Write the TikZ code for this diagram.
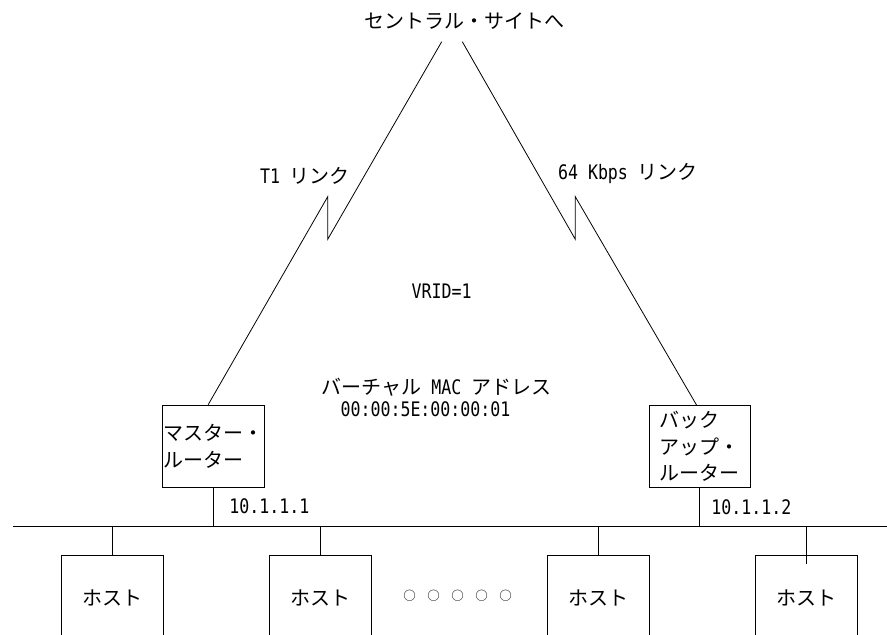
\documentclass[tikz,border=0pt]{standalone}
\usepackage{fontspec}
\setmainfont{Noto Sans CJK JP}
\newfontfamily\lat[FakeStretch=0.83]{DejaVu Sans Mono}
\usetikzlibrary{calc}
\begin{document}
\begin{tikzpicture}[x=1pt,y=-1pt,line width=0.8pt,
  every node/.style={font=\fontsize{20}{26.6}\selectfont, inner sep=0pt},
  router/.style={draw, align=left},
  hostbox/.style={draw, minimum width=102pt, minimum height=85pt, anchor=north}]
\useasboundingbox (0,0) rectangle (887,635);
\clip (0,0) rectangle (887,635);

% labels
\node (title) at (464,21) {セントラル・サイトへ};
\node (t1) at (305,176) {{\lat T1 }リンク};
\node (k64) at (628,174) {{\lat 64 Kbps }リンク};
\node (vrid) at (441.7,291.7) {\lat VRID=1};
\node (vmac) at (436.5,387) {バーチャル{\lat\ MAC\ }アドレス};
\node (mac) at (425.5,409) {\lat 00:00:5E:00:00:01};

% routers
\node[router, minimum width=101.6pt, minimum height=82.3pt] (master) at (213.5,446.2) {マスター・\\ルーター};
\node[router, minimum width=101pt, minimum height=81.6pt] (backup) at (699.5,446.5) {バック\\アップ・\\ルーター};
\node[anchor=west] (ip1) at (229,506) {\lat 10.1.1.1};
\node[anchor=west] (ip2) at (711,507) {\lat 10.1.1.2};

% hosts
\node[hostbox] (h1) at (112.85,555) {ホスト};
\node[hostbox] (h2) at (320,555) {ホスト};
\node[hostbox] (h3) at (598.85,555) {ホスト};
\node[hostbox] (h4) at (806.2,555) {ホスト};
\node (dots) at (457.5,596) {\fontsize{12.5}{12.5}\selectfont ○\hspace{11.5pt}○\hspace{11.5pt}○\hspace{11.5pt}○\hspace{11.5pt}○};

% WAN links
\coordinate (lt) at (441.7,41.7);
\coordinate (lz1) at (327.7,239.3);
\coordinate (lz2) at (327.7,196.7);
\draw (lt) -- (lz1) -- (lz2) -- ($(master.north)+(-5.3,0)$);
\coordinate (rt) at (462.3,41.7);
\coordinate (rz1) at (575.3,239.3);
\coordinate (rz2) at (575.3,196.7);
\draw (rt) -- (rz1) -- (rz2) -- ($(backup.north)+(-2.8,0)$);

% LAN
\coordinate (busL) at (13.3,526.7);
\coordinate (busR) at (887,526.7);
\draw (busL) -- (busR);
\draw (master.south) -- (master.south |- busL);
\draw (backup.south) -- (backup.south |- busL);
\draw (h1.north) -- (h1.north |- busL);
\draw (h2.north) -- (h2.north |- busL);
\draw (h3.north) -- (h3.north |- busL);
\draw ($(h4.north)+(0,9)$) -- (h4.north |- busL);
\end{tikzpicture}
\end{document}
